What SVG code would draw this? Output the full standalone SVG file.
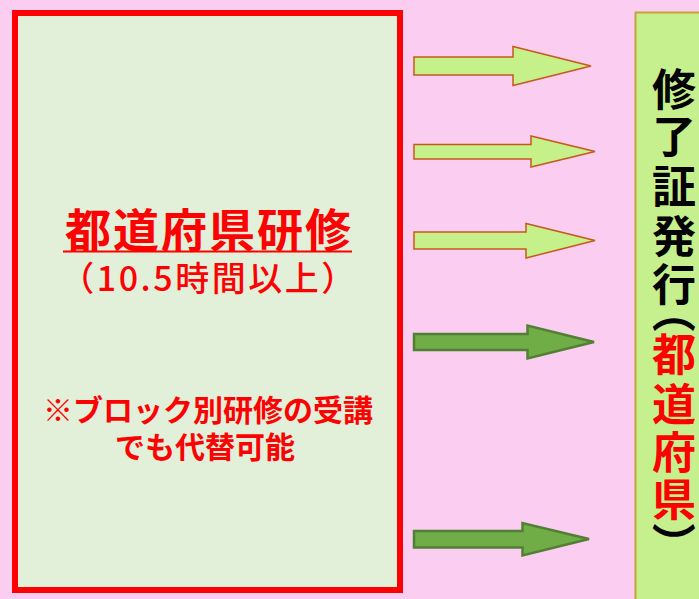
<svg xmlns="http://www.w3.org/2000/svg" width="699" height="599" viewBox="0 0 699 599">
<style>
.jp{font-family:"Noto Sans CJK JP","Liberation Sans",sans-serif;}
.red{fill:#ff0000;}
.v{font-family:"Noto Sans CJK JP","Liberation Sans",sans-serif;font-size:44px;font-weight:bold;text-anchor:middle;}
.light{fill:#c6f08a;stroke:#c8581a;stroke-width:1.5;stroke-linejoin:miter;}
.dark{fill:#70ad47;stroke:#527f33;stroke-width:2.5;stroke-linejoin:miter;}
</style>
<rect x="0" y="0" width="699" height="599" fill="#fbcdf0"/>
<g id="prefecture-training">
<rect x="15" y="13" width="385" height="577" fill="#e2efd9" stroke="#ff0000" stroke-width="6"/>
<text class="jp red" x="209" y="247" font-size="46" font-weight="bold" text-anchor="middle" letter-spacing="2">都道府県研修</text>
<line x1="63" y1="251.5" x2="352" y2="251.5" stroke="#ff0000" stroke-width="2"/>
<text class="jp red" x="209" y="291" font-size="34" font-weight="500" text-anchor="middle" letter-spacing="2.5">（10.5時間以上）</text>
<text class="jp red" x="208" y="421" font-size="30" font-weight="bold" text-anchor="middle">※ブロック別研修の受講</text>
<text class="jp red" x="205" y="458" font-size="30" font-weight="bold" text-anchor="middle">でも代替可能</text>
</g>
<g id="certificate">
<rect x="635.5" y="12.5" width="80" height="600" fill="#c6f08d" stroke="#c9a03a" stroke-width="2"/>
<text class="v" x="674" y="106">修</text>
<text class="v" x="674" y="153">了</text>
<text class="v" x="674" y="203">証</text>
<text class="v" x="674" y="253">発</text>
<text class="v" x="674" y="301">行</text>
<text class="v" transform="translate(657,311) rotate(90)" x="0" y="0">（</text>
<text class="v red" x="674" y="371">都</text>
<text class="v red" x="674" y="421">道</text>
<text class="v red" x="674" y="469">府</text>
<text class="v red" x="674" y="516">県</text>
<text class="v" transform="translate(657,544) rotate(90)" x="0" y="0">）</text>
</g>
<g id="connectors">
<polygon class="light" points="414,57 513,57 513,46.5 591,66 513,85.5 513,75 414,75"/>
<polygon class="light" points="414,144.5 531,144.5 531,136 595,151.5 531,167 531,159 414,159"/>
<polygon class="light" points="414,232 526,232 526,223.5 595,240.5 526,258 526,249 414,249"/>
<polygon class="dark" points="414,334 527.5,334 527.5,325.5 594,342 527.5,358.5 527.5,350 414,350"/>
<polygon class="dark" points="414,531 522.5,531 522.5,523 589,539 522.5,555.5 522.5,547.5 414,547.5"/>
</g>
</svg>
